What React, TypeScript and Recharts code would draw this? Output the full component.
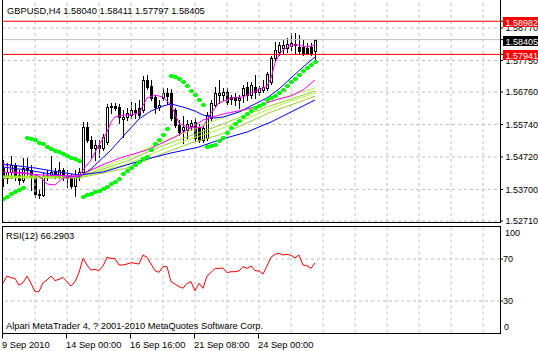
import React from "react";
import {
  ComposedChart,
  Bar,
  Line,
  Scatter,
  XAxis,
  YAxis,
  CartesianGrid,
  ReferenceLine,
} from "recharts";

const FONT = "'Liberation Sans', Arial, sans-serif";
const FS = 9.3;
const AXIS_FS = 9;

// H4 bars, GBPUSD
const opens = [
  1.54374, 1.5406, 1.54248, 1.54468, 1.54154, 1.53997, 1.54374, 1.54311, 1.54123, 1.53557,
  1.53526, 1.54123, 1.54154, 1.54248, 1.54123, 1.54311, 1.54123, 1.5406, 1.53809, 1.54123,
  1.54248, 1.55661, 1.55253, 1.55002, 1.55096, 1.55002, 1.55191, 1.56289, 1.56321, 1.56289,
  1.55912, 1.55975, 1.56038, 1.56195, 1.56258, 1.56195, 1.57137, 1.56949, 1.56603, 1.56289,
  1.56572, 1.56729, 1.56729, 1.56195, 1.55724, 1.55567, 1.55567, 1.55693, 1.55818, 1.55661,
  1.55253, 1.55316, 1.55944, 1.56352, 1.56666, 1.56666, 1.5676, 1.56603, 1.56603, 1.56509,
  1.56666, 1.56917, 1.56666, 1.56917, 1.5676, 1.56823, 1.56886, 1.57074, 1.57828, 1.58016,
  1.58142, 1.58142, 1.58205, 1.58268, 1.58174, 1.58174, 1.58142, 1.58174, 1.5804,
];
const highs = [
  1.54625, 1.54531, 1.54751, 1.54531, 1.54311, 1.54688, 1.54688, 1.54468, 1.54186, 1.53683,
  1.54217, 1.54311, 1.54751, 1.54374, 1.54562, 1.54374, 1.54311, 1.54186, 1.54311, 1.54374,
  1.55818, 1.55818, 1.55379, 1.55253, 1.55253, 1.55442, 1.56384, 1.56415, 1.56415, 1.56384,
  1.56195, 1.56258, 1.56446, 1.56415, 1.56509, 1.57263, 1.57294, 1.57137, 1.56666, 1.56509,
  1.56886, 1.56886, 1.56854, 1.56258, 1.55881, 1.56007, 1.55881, 1.55881, 1.55944, 1.55756,
  1.55693, 1.56132, 1.56509, 1.56917, 1.57137, 1.56886, 1.56886, 1.56666, 1.56729, 1.56666,
  1.5698, 1.57074, 1.57074, 1.57294, 1.56949, 1.57137, 1.57388, 1.57891, 1.5833, 1.5833,
  1.58393, 1.58456, 1.58613, 1.58613, 1.5855, 1.58393, 1.58299, 1.58299, 1.58411,
];
const lows = [
  1.53809, 1.53903, 1.5406, 1.53997, 1.53872, 1.53934, 1.54154, 1.53683, 1.53464, 1.53432,
  1.53495, 1.53997, 1.54092, 1.5406, 1.5406, 1.53997, 1.53777, 1.53746, 1.53495, 1.53997,
  1.54186, 1.55191, 1.5472, 1.54625, 1.5472, 1.54939, 1.55128, 1.56101, 1.56195, 1.55787,
  1.55347, 1.55881, 1.55944, 1.55944, 1.55975, 1.56132, 1.56854, 1.56509, 1.56101, 1.56195,
  1.56509, 1.56384, 1.55881, 1.55661, 1.5541, 1.55159, 1.55316, 1.55567, 1.55222, 1.55191,
  1.55191, 1.55253, 1.55881, 1.56289, 1.56415, 1.56509, 1.56384, 1.56384, 1.56352, 1.56258,
  1.56446, 1.56509, 1.56572, 1.56572, 1.56666, 1.5676, 1.56823, 1.57011, 1.57765, 1.57922,
  1.57985, 1.58016, 1.58079, 1.57985, 1.57985, 1.57922, 1.57985, 1.57922, 1.57797,
];
const closes = [
  1.5406, 1.54248, 1.54468, 1.54154, 1.53997, 1.54374, 1.54311, 1.54123, 1.53557, 1.53526,
  1.54123, 1.54154, 1.54248, 1.54123, 1.54311, 1.54123, 1.5406, 1.53809, 1.54123, 1.54248,
  1.55661, 1.55253, 1.55002, 1.55096, 1.55002, 1.55347, 1.56289, 1.56321, 1.56258, 1.55975,
  1.55975, 1.56101, 1.56195, 1.56132, 1.56038, 1.57137, 1.56917, 1.56572, 1.56289, 1.56352,
  1.56729, 1.56635, 1.55944, 1.55724, 1.55504, 1.55661, 1.55756, 1.55787, 1.55316, 1.55253,
  1.5563, 1.56038, 1.56415, 1.56729, 1.56729, 1.5676, 1.56446, 1.5654, 1.56509, 1.56572,
  1.56886, 1.56666, 1.5698, 1.5676, 1.56886, 1.56917, 1.57326, 1.57828, 1.58079, 1.58236,
  1.58236, 1.58268, 1.58299, 1.58236, 1.58048, 1.57985, 1.57985, 1.57985, 1.58405,
];

// parabolic SAR, one dot per bar
const sarValues = [
  1.53401, 1.53464, 1.53557, 1.5362, 1.53683, 1.53746, 1.55316, 1.55284, 1.55253, 1.55159,
  1.55128, 1.55033, 1.5497, 1.54908, 1.54876, 1.54813, 1.54751, 1.54688, 1.54657, 1.54594,
  1.53464, 1.53526, 1.53557, 1.5362, 1.53652, 1.53715, 1.53777, 1.53872, 1.53934, 1.54029,
  1.54186, 1.5428, 1.54374, 1.54468, 1.54562, 1.54657, 1.5472, 1.54939, 1.55128, 1.55253,
  1.5541, 1.55598, 1.57263, 1.57231, 1.57168, 1.57074, 1.56949, 1.56791, 1.56666, 1.56509,
  1.56352, 1.55033, 1.55065, 1.55096, 1.55222, 1.55316, 1.55473, 1.5563, 1.55756, 1.5585,
  1.55975, 1.56069, 1.56164, 1.56258, 1.56321, 1.56384, 1.56509, 1.56572, 1.56635, 1.56729,
  1.56823, 1.56949, 1.57074, 1.57168, 1.57294, 1.5742, 1.57514, 1.57608, 1.57702,
];

const rsiValues = [
  47, 53.8, 52.2, 51.6, 45, 47.4, 53.8, 46.8, 38.9, 38.9,
  47.4, 50, 53.8, 49.4, 50.6, 52.5, 48.4, 44.3, 48.4, 57,
  70.6, 64.3, 59.5, 60.2, 58.9, 63.3, 71.6, 70.6, 70.6, 64.3,
  64.3, 65.2, 66.5, 65.9, 65.2, 73.8, 71.6, 65.2, 58.9, 57.3,
  62.7, 62.7, 48.4, 46.2, 43.7, 42.1, 46.8, 48.4, 39.8, 46.8,
  42.1, 53.8, 57, 61.1, 61.1, 61.4, 57, 57.9, 57.9, 58.6,
  62.7, 61.1, 63.3, 58.9, 58.6, 55.7, 63.3, 71.6, 74.5, 75.4,
  73.8, 74.5, 73.5, 71.2, 73.8, 64.3, 63.6, 61.1, 66.29,
];

// moving averages, read at sample bars: [bar, price]
const maFast: [number, number][] = [
  [0, 1.54531], [3, 1.54248], [6, 1.54217], [9, 1.54123], [11, 1.53872], [13, 1.5384],
  [15, 1.5406], [17, 1.54092], [19, 1.54123], [20, 1.54311], [22, 1.54625], [24, 1.55096],
  [26, 1.55504], [27, 1.55818], [28, 1.55975], [30, 1.56038], [32, 1.56038], [34, 1.56101],
  [36, 1.56572], [38, 1.56666], [40, 1.56603], [42, 1.56352], [44, 1.55787], [46, 1.55661],
  [48, 1.5563], [50, 1.55661], [52, 1.56101], [54, 1.56415], [57, 1.56572], [60, 1.56603],
  [62, 1.56729], [64, 1.56823], [66, 1.56949], [67, 1.572], [68, 1.57671], [69, 1.57922],
  [70, 1.58079], [72, 1.58236], [74, 1.58236], [76, 1.58174], [78, 1.58236],
];
const maMagentaSlow: [number, number][] = [
  [0, 1.54248], [10, 1.54154], [19, 1.54123], [22, 1.54311], [26, 1.54531], [30, 1.5472],
  [36, 1.54939], [43, 1.55347], [47, 1.5563], [50, 1.55881], [55, 1.56069], [60, 1.56195],
  [63, 1.56289], [68, 1.56509], [72, 1.56635], [75, 1.56823], [78, 1.57137],
];
const maBlueMid: [number, number][] = [
  [0, 1.54405], [6, 1.54311], [12, 1.54186], [16, 1.54123], [19, 1.54092], [22, 1.54343],
  [27, 1.54939], [31, 1.55504], [34, 1.55912], [37, 1.56164], [40, 1.56321], [42, 1.56384],
  [45, 1.56289], [48, 1.56164], [50, 1.56038], [53, 1.55944], [55, 1.55975], [59, 1.56132],
  [62, 1.56321], [66, 1.56572], [69, 1.56854], [72, 1.572], [75, 1.57545], [78, 1.57859],
];
const maBlueSlow: [number, number][] = [
  [0, 1.545], [8, 1.54374], [14, 1.54248], [19, 1.54154], [25, 1.54248], [35, 1.54625],
  [42, 1.54845], [49, 1.55033], [54, 1.55253], [61, 1.55504], [67, 1.55818], [74, 1.56258],
  [78, 1.56509],
];
const ribbon1: [number, number][] = [
  [0, 1.54123], [19, 1.54123], [31, 1.54688], [39, 1.55159], [46, 1.55504], [52, 1.55818],
  [59, 1.56132], [66, 1.56415], [72, 1.56666], [78, 1.56886],
];
const ribbon2: [number, number][] = [
  [0, 1.54107], [19, 1.54092], [31, 1.54594], [39, 1.55033], [46, 1.55347], [53, 1.55661],
  [60, 1.56007], [66, 1.56289], [72, 1.5654], [78, 1.56791],
];
const ribbon3: [number, number][] = [
  [0, 1.54076], [19, 1.54076], [31, 1.545], [39, 1.54908], [46, 1.55253], [53, 1.55536],
  [60, 1.55881], [66, 1.56195], [72, 1.56478], [78, 1.56729],
];
const ribbon4: [number, number][] = [
  [0, 1.5406], [19, 1.5406], [31, 1.54374], [39, 1.54782], [47, 1.55159], [54, 1.5541],
  [61, 1.55787], [67, 1.56132], [74, 1.56446], [78, 1.56635],
];

const priceTicks = [1.5271, 1.537, 1.5472, 1.5574, 1.5676, 1.5775, 1.5877];
const priceDomain = [1.52679, 1.59649];
const redLevels = [1.57941, 1.58982];
const bidPrice = 1.58405;
const rsiTicks = [0, 30, 70, 100];
const rsiLevels = [30, 70];
const timeTicks = [0, 16, 32, 48, 64];
const timeLabels = ["9 Sep 2010", "14 Sep 00:00", "16 Sep 16:00", "21 Sep 08:00", "24 Sep 00:00"];
const gridBars = [8, 16, 24, 32, 40, 48, 56, 64, 72, 80, 88, 96, 104, 112, 120];
const xDomain = [-0.25, 124.25];

// axis ticks first, then the price boxes so they are drawn over the tick labels
const axisTicks = [...priceTicks, bidPrice, ...redLevels];

const candles = opens.map((o, i) => ({
  i,
  o,
  h: highs[i],
  l: lows[i],
  c: closes[i],
  range: [lows[i], highs[i]],
}));
const sarData = sarValues.map((v, i) => ({ i, v }));
const rsiData = rsiValues.map((v, i) => ({ i, v }));
const pts = (a: [number, number][]) => a.map(([i, v]) => ({ i, v }));

const GRID = "#c0c0c0";

function Candle(props: any) {
  const { x, y, width, height, payload } = props;
  if (x == null || !payload) return null;
  const { o, h, l, c } = payload;
  const cx = Math.round(x + width / 2);
  const py = (p: number) => y + ((h - p) / (h - l)) * height;
  const top = Math.round(py(Math.max(o, c)));
  const bot = Math.round(py(Math.min(o, c)));
  const up = c >= o;
  return (
    <g>
      <line x1={cx + 0.5} x2={cx + 0.5} y1={Math.round(y)} y2={Math.round(y + height) + 1} stroke="#000" />
      <rect
        x={cx - 0.5}
        y={top + 0.5}
        width={2}
        height={Math.max(bot - top, 1)}
        fill={up ? "#fff" : "#000"}
        stroke="#000"
      />
    </g>
  );
}

function SarDot(props: any) {
  const { cx, cy } = props;
  if (cx == null) return null;
  const x = Math.round(cx);
  const y = Math.round(cy);
  return <path d={`M${x - 1} ${y - 2}h3v1h1v2h-1v1h-3v-1h-1v-2h1z`} fill="#00ff00" />;
}

function PriceTick(props: any) {
  const { x, y, payload } = props;
  const v = payload.value;
  if (v === bidPrice || redLevels.includes(v)) {
    const ly = Math.round(y);
    return (
      <g>
        <rect x={x - 2.5} y={ly - 4} width={40} height={10} fill={v === bidPrice ? "#000" : "#ff0000"} />
        <text x={x} y={ly + 4.5} fontSize={AXIS_FS} fontFamily={FONT} fill="#fff">
          {v.toFixed(5)}
        </text>
      </g>
    );
  }
  return (
    <text x={x} y={y + 3.2} fontSize={AXIS_FS} fontFamily={FONT} fill="#000">
      {v.toFixed(5)}
    </text>
  );
}

function RsiTick(props: any) {
  const { x, y, payload } = props;
  const v = payload.value;
  const shift = v === 100 ? 5.2 : v === 0 ? -5.5 : 0;
  const dx = v === 100 ? 5 : v === 0 ? 4 : 3;
  return (
    <g>
      {(v === 30 || v === 70) && <line x1={x} x2={x + 3} y1={y} y2={y} stroke="#000" />}
      <text x={x + dx} y={y + shift + 3.2} fontSize={AXIS_FS} fontFamily={FONT} fill="#000">
        {v}
      </text>
    </g>
  );
}

function TimeTick(props: any) {
  const { x, y, payload } = props;
  const k = timeTicks.indexOf(payload.value);
  return (
    <g>
      <line x1={Math.round(x) - 0.5} x2={Math.round(x) - 0.5} y1={y + 1.5} y2={y + 6} stroke="#000" />
      <text x={x - 1} y={y + 15} fontSize={FS} fontFamily={FONT} fill="#000">
        {timeLabels[k]}
      </text>
    </g>
  );
}

export default function App() {
  const lineProps = { dataKey: "v", dot: false, isAnimationActive: false, strokeWidth: 1, type: "linear" as const };
  return (
    <div style={{ position: "absolute", left: 0, top: 0, width: 538, height: 351, background: "#fff", overflow: "hidden" }}>
      <div style={{ position: "absolute", left: 0, top: 0 }}>
        <ComposedChart width={538} height={225} data={candles} margin={{ top: 0, right: 0, bottom: 3, left: 2 }}>
          <XAxis dataKey="i" type="number" domain={xDomain} allowDataOverflow hide />
          <YAxis
            orientation="right"
            width={38}
            domain={priceDomain}
            allowDataOverflow
            ticks={axisTicks}
            interval={0}
            axisLine={false}
            tickSize={3}
            tickMargin={2.5}
            tickLine={{ stroke: "#000" }}
            tick={<PriceTick />}
          />
          <CartesianGrid vertical={false} horizontalValues={priceTicks} stroke={GRID} strokeDasharray="3 3" />
          {gridBars.map((g) => (
            <ReferenceLine key={g} x={g} stroke={GRID} strokeDasharray="3 3" />
          ))}
          <ReferenceLine y={bidPrice} stroke={GRID} />
          {redLevels.map((r) => (
            <ReferenceLine key={r} y={r} stroke="#ff0000" />
          ))}
          <Bar dataKey="range" barSize={4} shape={<Candle />} isAnimationActive={false} />
          <Line {...lineProps} data={pts(ribbon4)} stroke="#9acd32" />
          <Line {...lineProps} data={pts(ribbon3)} stroke="#adff2f" />
          <Line {...lineProps} data={pts(ribbon2)} stroke="#9acd32" />
          <Line {...lineProps} data={pts(ribbon1)} stroke="#adff2f" />
          <Line {...lineProps} data={pts(maBlueSlow)} stroke="#0000ff" />
          <Line {...lineProps} data={pts(maBlueMid)} stroke="#0000ff" />
          <Line {...lineProps} data={pts(maMagentaSlow)} stroke="#ff00ff" />
          <Line {...lineProps} data={pts(maFast)} stroke="#ff00ff" />
          <Scatter data={sarData} dataKey="v" shape={<SarDot />} isAnimationActive={false} />
        </ComposedChart>
      </div>
      <div style={{ position: "absolute", left: 0, top: 226 }}>
        <ComposedChart width={538} height={125} data={rsiData} margin={{ top: 1.5, right: 0, bottom: 0, left: 2 }}>
          <XAxis
            dataKey="i"
            type="number"
            domain={xDomain}
            allowDataOverflow
            ticks={timeTicks}
            interval={0}
            height={18.5}
            axisLine={false}
            tickLine={false}
            tickSize={0}
            tickMargin={0}
            tick={<TimeTick />}
          />
          <YAxis
            orientation="right"
            width={38}
            domain={[0, 100]}
            ticks={rsiTicks}
            interval={0}
            axisLine={false}
            tickLine={false}
            tickSize={0}
            tickMargin={0}
            tick={<RsiTick />}
          />
          {gridBars.map((g) => (
            <ReferenceLine key={g} x={g} stroke={GRID} strokeDasharray="3 3" />
          ))}
          {rsiLevels.map((r) => (
            <ReferenceLine key={r} y={r} stroke={GRID} strokeDasharray="3 3" />
          ))}
          <Line {...lineProps} stroke="#ff0000" />
        </ComposedChart>
      </div>
      <svg width={538} height={351} style={{ position: "absolute", left: 0, top: 0, pointerEvents: "none" }}>
        <g stroke="#000" fill="none">
          <line x1={2.5} x2={2.5} y1={0} y2={223} />
          <line x1={500.5} x2={500.5} y1={0} y2={223} />
          <line x1={2} x2={501} y1={222.5} y2={222.5} />
          <rect x={2.5} y={226.5} width={498} height={107} />
        </g>
        <g fontFamily={FONT} fontSize={FS} fill="#000" style={{ whiteSpace: "pre" }}>
          <text x={7} y={14}>GBPUSD,H4  1.58040 1.58411 1.57797 1.58405</text>
          <text x={6} y={239}>RSI(12) 66.2903</text>
          <text x={6} y={329}>Alpari MetaTrader 4, ? 2001-2010 MetaQuotes Software Corp.</text>
        </g>
      </svg>
    </div>
  );
}
